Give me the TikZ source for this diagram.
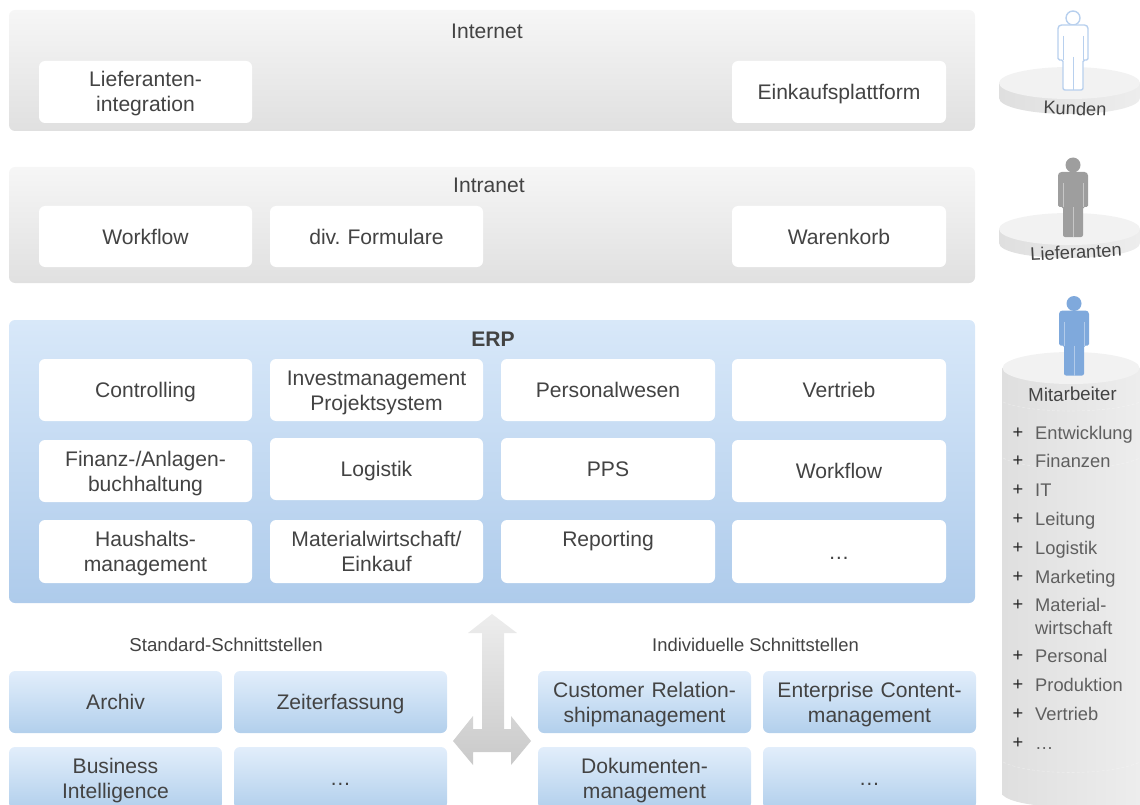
\documentclass[tikz,border=0pt]{standalone}
\usepackage{fontspec}
\setmainfont{Liberation Sans}
\frenchspacing
\definecolor{txt}{HTML}{434343}
\newcommand{\bigtxt}{\fontsize{21.1}{25}\selectfont}
\newcommand{\smalltxt}{\fontsize{18.3}{22}\selectfont}
\definecolor{pgtop}{HTML}{F6F6F6}
\definecolor{pgbot}{HTML}{E0E0E0}
\definecolor{pbtop}{HTML}{D8E8F9}
\definecolor{pbbot}{HTML}{AECBEB}
\definecolor{bbtop}{HTML}{E2EEFB}
\definecolor{bbbot}{HTML}{B2CFEC}
\definecolor{podl}{HTML}{DFDFDF}
\definecolor{podr}{HTML}{EDEDED}
\definecolor{podt}{HTML}{F2F2F2}
\definecolor{persblue}{HTML}{7FA9DC}
\definecolor{persline}{HTML}{B8D0EE}
\tikzset{
  grayp/.style={rounded corners=6pt,top color=pgtop,bottom color=pgbot},
  bluep/.style={rounded corners=6pt,top color=pbtop,bottom color=pbbot},
  whitebox/.style={rounded corners=6pt,fill=white},
  bluebox/.style={rounded corners=6pt,top color=bbtop,bottom color=bbbot},
  lbl/.style={text=txt,font=\bigtxt,align=center,inner sep=0pt},
  sublbl/.style={text=txt,font=\smalltxt,align=center,inner sep=0pt},
  listlbl/.style={text=txt!85,font=\smalltxt,anchor=base west,inner sep=0pt,align=left},
  plus/.style={text=black!85,font=\smalltxt,anchor=base,inner sep=0pt},
  podside/.style={left color=podl,right color=podr},
  podtop/.style={fill=podt},
  seam/.style={white,opacity=.3,densely dashed,line width=.6pt},
}
\newcommand{\bx}[7]{%
  \node[#6,lbl,minimum width={(#4-#2)*1pt},minimum height={(#5-#3)*1pt},text width={(#4-#2)*1pt}]
    (#1) at ({(#2+#4)/2},{(#3+#5)/2}) {\rule{0pt}{21pt}#7\rule[-6pt]{0pt}{6pt}};}
\newcommand{\personpath}{%
  (1058,33) [rounded corners=3.5pt] -- (1058,25) -- (1088,25) [rounded corners=1.5pt] -- (1088,60)
  -- (1083,60) [rounded corners=2pt] -- (1083,90) -- (1063,90) [rounded corners=1.5pt] -- (1063,60) -- (1058,60) -- cycle}
\begin{document}
\begin{tikzpicture}[x=1pt,y=-1pt]
\useasboundingbox (0,0) rectangle (1140,805);
\clip (0,0) rectangle (1140,805);
% panels
\bx{internet}{9}{10}{975}{131}{grayp}{}
\bx{intranet}{9}{167}{975}{283}{grayp}{}
\bx{erp}{9}{320}{975}{603}{bluep}{}
\node[lbl] (tinternet) at (487,31) {Internet};
\node[lbl] (tintranet) at (489,185) {Intranet};
\node[lbl,font=\bigtxt\bfseries] (terp) at (493,339) {ERP};
% white boxes
\bx{lief}{39}{61}{252}{123}{whitebox}{Lieferanten-\\integration}
\bx{eink}{732}{61}{946}{123}{whitebox}{Einkaufsplattform}
\bx{wf}{39}{206}{252}{267}{whitebox}{Workflow}
\bx{form}{270}{206}{483}{267}{whitebox}{div. Formulare}
\bx{korb}{732}{206}{946}{267}{whitebox}{Warenkorb}
\bx{contr}{39}{359}{252}{421}{whitebox}{Controlling}
\bx{inv}{270}{359}{483}{421}{whitebox}{Investmanagement\\Projektsystem}
\bx{pers}{501}{359}{715}{421}{whitebox}{Personalwesen}
\bx{vertr}{732}{359}{946}{421}{whitebox}{Vertrieb}
\bx{fin}{39}{440}{252}{502}{whitebox}{Finanz-/Anlagen-\\buchhaltung}
\bx{log}{270}{438}{483}{500}{whitebox}{Logistik}
\bx{pps}{501}{438}{715}{500}{whitebox}{PPS}
\bx{wf2}{732}{440}{946}{502}{whitebox}{Workflow}
\bx{haus}{39}{520}{252}{583}{whitebox}{Haushalts-\\management}
\bx{mat}{270}{520}{483}{583}{whitebox}{Materialwirtschaft/\\Einkauf}
\bx{rep}{501}{520}{715}{583}{whitebox}{Reporting\\\mbox{}}
\bx{more}{732}{520}{946}{583}{whitebox}{…}
% interfaces
\node[sublbl,font=\fontsize{18.7}{22}\selectfont] (tstd) at (226,645) {Standard-Schnittstellen};
\node[sublbl,font=\fontsize{18.4}{22}\selectfont] (tind) at (755.5,645) {Individuelle Schnittstellen};
\bx{arch}{9}{671}{222}{733}{bluebox}{Archiv}
\bx{zeit}{234}{671}{447}{733}{bluebox}{Zeiterfassung}
\bx{bi}{9}{747}{222}{809}{bluebox}{Business\\Intelligence}
\bx{m1}{234}{747}{447}{809}{bluebox}{…}
\bx{crm}{538}{671}{751}{733}{bluebox}{Customer Relation-\\shipmanagement}
\bx{ecm}{763}{671}{976}{733}{bluebox}{Enterprise Content-\\management}
\bx{dok}{538}{747}{751}{809}{bluebox}{Dokumenten-\\management}
\bx{m2}{763}{747}{976}{809}{bluebox}{…}
% double arrow
\shade[top color=black!7,bottom color=black!21]
  (492,614) -- (517,633) -- (504,633) -- (504,729) -- (511,729) -- (511,716) -- (531,741)
  -- (511,765) -- (511,752) -- (473,752) -- (473,765) -- (453,741) -- (473,716) -- (473,729)
  -- (482,729) -- (482,633) -- (468,633) -- cycle;
% pedestal Kunden
\shade[podside] (999,83) -- (999,98) .. controls (999,107) and (1030,114) .. (1069.5,114)
  .. controls (1109,114) and (1140,107) .. (1140,98) -- (1140,83) -- cycle;
\fill[podtop] (1069.5,83) ellipse [x radius=70.5,y radius=16];
% pedestal Lieferanten
\shade[podside] (999,229) -- (999,243) .. controls (999,252) and (1030,258) .. (1069.5,258)
  .. controls (1109,258) and (1140,252) .. (1140,243) -- (1140,229) -- cycle;
\fill[podtop] (1069.5,229) ellipse [x radius=70.5,y radius=16];
% cylinder Mitarbeiter
\shade[podside] (1002.5,368) -- (1002.5,795) .. controls (1010,802) and (1030,806) .. (1071,808)
  -- (1140,808) -- (1140,368) -- cycle;
\fill[podtop] (1071,368) ellipse [x radius=68.5,y radius=16];
\draw[seam] (1003,402) .. controls (1030,414) and (1110,414) .. (1140,402);
\draw[seam] (1003,458) .. controls (1030,472) and (1110,472) .. (1140,458);
\draw[seam] (1003,762) .. controls (1030,776) and (1110,776) .. (1140,762);
% persons
\draw[persline,line width=1.4pt,fill=white] (1073,18) circle [radius=7];
\draw[persline,line width=1.4pt,fill=white] \personpath;
\draw[persline,line width=1pt] (1063,36) -- (1063,60) (1083,36) -- (1083,60) (1073,57) -- (1073,90);
\begin{scope}[shift={(0,147)}]
  \fill[black!38] (1073,18) circle [radius=7.5];
  \fill[black!38] \personpath;
  \draw[black!22,line width=.7pt] (1063,36) -- (1063,60) (1083,36) -- (1083,60) (1073,60) -- (1073,90);
\end{scope}
\begin{scope}[shift={(1,285.5)}]
  \fill[persblue] (1073,18) circle [radius=7.5];
  \fill[persblue] \personpath;
  \draw[persblue!60,line width=.7pt] (1063,36) -- (1063,60) (1083,36) -- (1083,60) (1073,60) -- (1073,90);
\end{scope}
% pedestal labels
\node[sublbl,rotate=-2] (kunden) at (1075,108.5) {Kunden};
\node[sublbl,rotate=3] (lieferanten) at (1076,252) {Lieferanten};
\node[sublbl,rotate=1,font=\fontsize{18.7}{22}\selectfont] (mitarb) at (1072.5,394) {Mitarbeiter};
% list
\foreach \nm/\yy/\tx in {a/439/Entwicklung,b/467/Finanzen,c/496/IT,d/525/Leitung,e/554/Logistik,f/583/Marketing,g/611/{Material-},h/634/wirtschaft,i/662/Personal,j/691/Produktion,k/720/Vertrieb,l/749/…}
  \node[listlbl] (li\nm) at (1035,\yy) {\tx};
\foreach \nm/\yy in {a/438,b/466,c/495,d/524,e/553,f/582,g/610,i/661,j/690,k/719,l/748}
  \node[plus] (pl\nm) at (1018,\yy) {+};
\end{tikzpicture}
\end{document}
